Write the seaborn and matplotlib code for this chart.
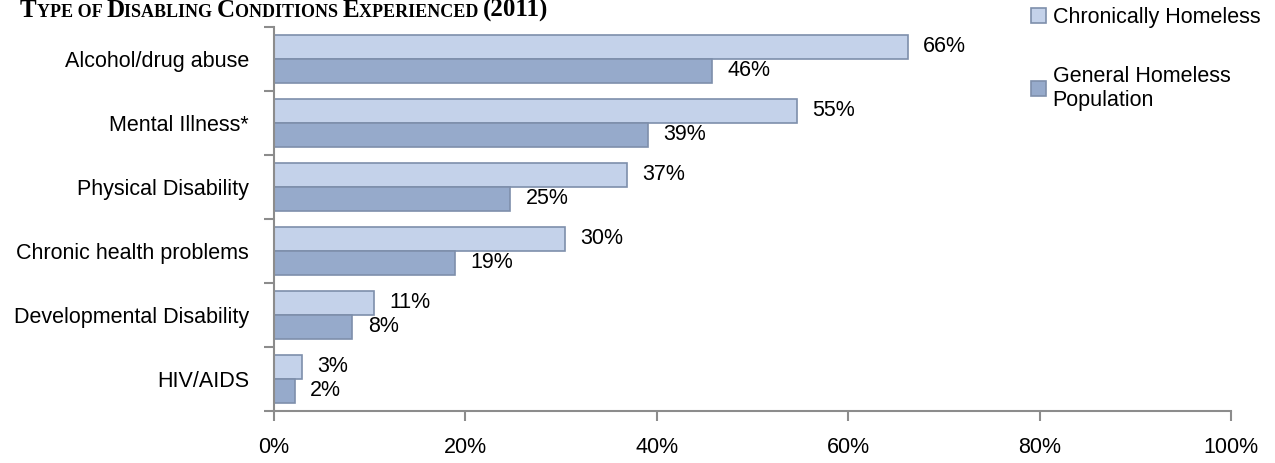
import matplotlib
matplotlib.use("Agg")
import matplotlib.pyplot as plt
import seaborn as sns
import pandas as pd
from matplotlib.patches import Patch
from matplotlib.ticker import FixedLocator

categories = ["Alcohol/drug abuse", "Mental Illness*", "Physical Disability",
              "Chronic health problems", "Developmental Disability", "HIV/AIDS"]
series_names = ["Chronically Homeless", "General Homeless Population"]
chronic = [66.2, 54.6, 36.9, 30.4, 10.5, 2.9]
general = [45.8, 39.1, 24.7, 18.9, 8.2, 2.2]
chronic_labels = ["66%", "55%", "37%", "30%", "11%", "3%"]
general_labels = ["46%", "39%", "25%", "19%", "8%", "2%"]
x_ticks = [0, 20, 40, 60, 80, 100]
x_tick_labels = ["0%", "20%", "40%", "60%", "80%", "100%"]
legend_labels = ["Chronically Homeless", "General Homeless\nPopulation"]
title_parts = [("T", "cap"), ("YPE OF ", "small"), ("D", "cap"), ("ISABLING ", "small"),
               ("C", "cap"), ("ONDITIONS ", "small"), ("E", "cap"), ("XPERIENCED ", "small"),
               ("(2011)", "cap")]

colors = ["#C4D2EA", "#96AACB"]
edge = "#7E8FAB"

df = pd.DataFrame({
    "category": categories * 2,
    "value": chronic + general,
    "series": [series_names[0]] * len(categories) + [series_names[1]] * len(categories),
})

sns.set_theme(style="white")
plt.rcParams["font.family"] = ["Liberation Sans", "DejaVu Sans"]
plt.rcParams["text.color"] = "black"
FS = 15.5

fig = plt.figure(figsize=(12.75, 4.63), dpi=100)
ax = fig.add_axes([274 / 1275, 1 - 411 / 463, (1231 - 274) / 1275, (411 - 27) / 463])

sns.barplot(data=df, x="value", y="category", hue="series", orient="h",
            palette=colors, width=0.75, edgecolor=edge, linewidth=1.2,
            legend=False, ax=ax, saturation=1)

for cont, labs in zip(ax.containers, [chronic_labels, general_labels]):
    ax.bar_label(cont, labels=labs, padding=11, fontsize=FS, color="black")

ax.set_xlim(0, 100)
ax.set_ylim(len(categories) - 0.5, -0.5)
ax.set_xlabel("")
ax.set_ylabel("")

ax.xaxis.set_major_locator(FixedLocator(x_ticks))
ax.set_xticklabels(x_tick_labels, fontsize=FS)
ax.tick_params(axis="x", which="major", direction="out", length=7, width=1.5,
               color="#8C8C8C", labelcolor="black", pad=12, bottom=True)

ax.set_yticks(range(len(categories)))
ax.set_yticklabels(categories, fontsize=FS)
ax.tick_params(axis="y", which="major", length=0, pad=18, left=True, labelcolor="black")
ax.yaxis.set_minor_locator(FixedLocator([i - 0.5 for i in range(len(categories) + 1)]))
ax.tick_params(axis="y", which="minor", direction="out", length=7, width=1.5,
               color="#8C8C8C", left=True)

for s in ["top", "right"]:
    ax.spines[s].set_visible(False)
for s in ["left", "bottom"]:
    ax.spines[s].set_color("#8C8C8C")
    ax.spines[s].set_linewidth(1.5)
ax.grid(False)

handles = [Patch(facecolor=colors[0], edgecolor=edge, linewidth=1.2),
           Patch(facecolor=colors[1], edgecolor=edge, linewidth=1.2)]
fig.legend(handles, legend_labels,
           loc="upper left", bbox_to_anchor=(1031 / 1275, 1 - 7 / 463),
           frameon=False, fontsize=FS, handlelength=0.7, handleheight=0.7,
           handletextpad=0.3, labelspacing=1.75, borderpad=0, borderaxespad=0)

# Title in small caps, partially cropped at top
tfam = ["Liberation Serif", "DejaVu Serif"]
sizes = {"cap": 18, "small": 13}
fig.canvas.draw()
renderer = fig.canvas.get_renderer()
x0 = 20
for txt, kind in title_parts:
    t = fig.text(x0 / 1275, 1 - 17 / 463, txt, fontsize=sizes[kind], fontweight="bold",
                 family=tfam, va="baseline", ha="left", color="black")
    x0 += t.get_window_extent(renderer=renderer).width

fig.savefig("out.png", dpi=100)
